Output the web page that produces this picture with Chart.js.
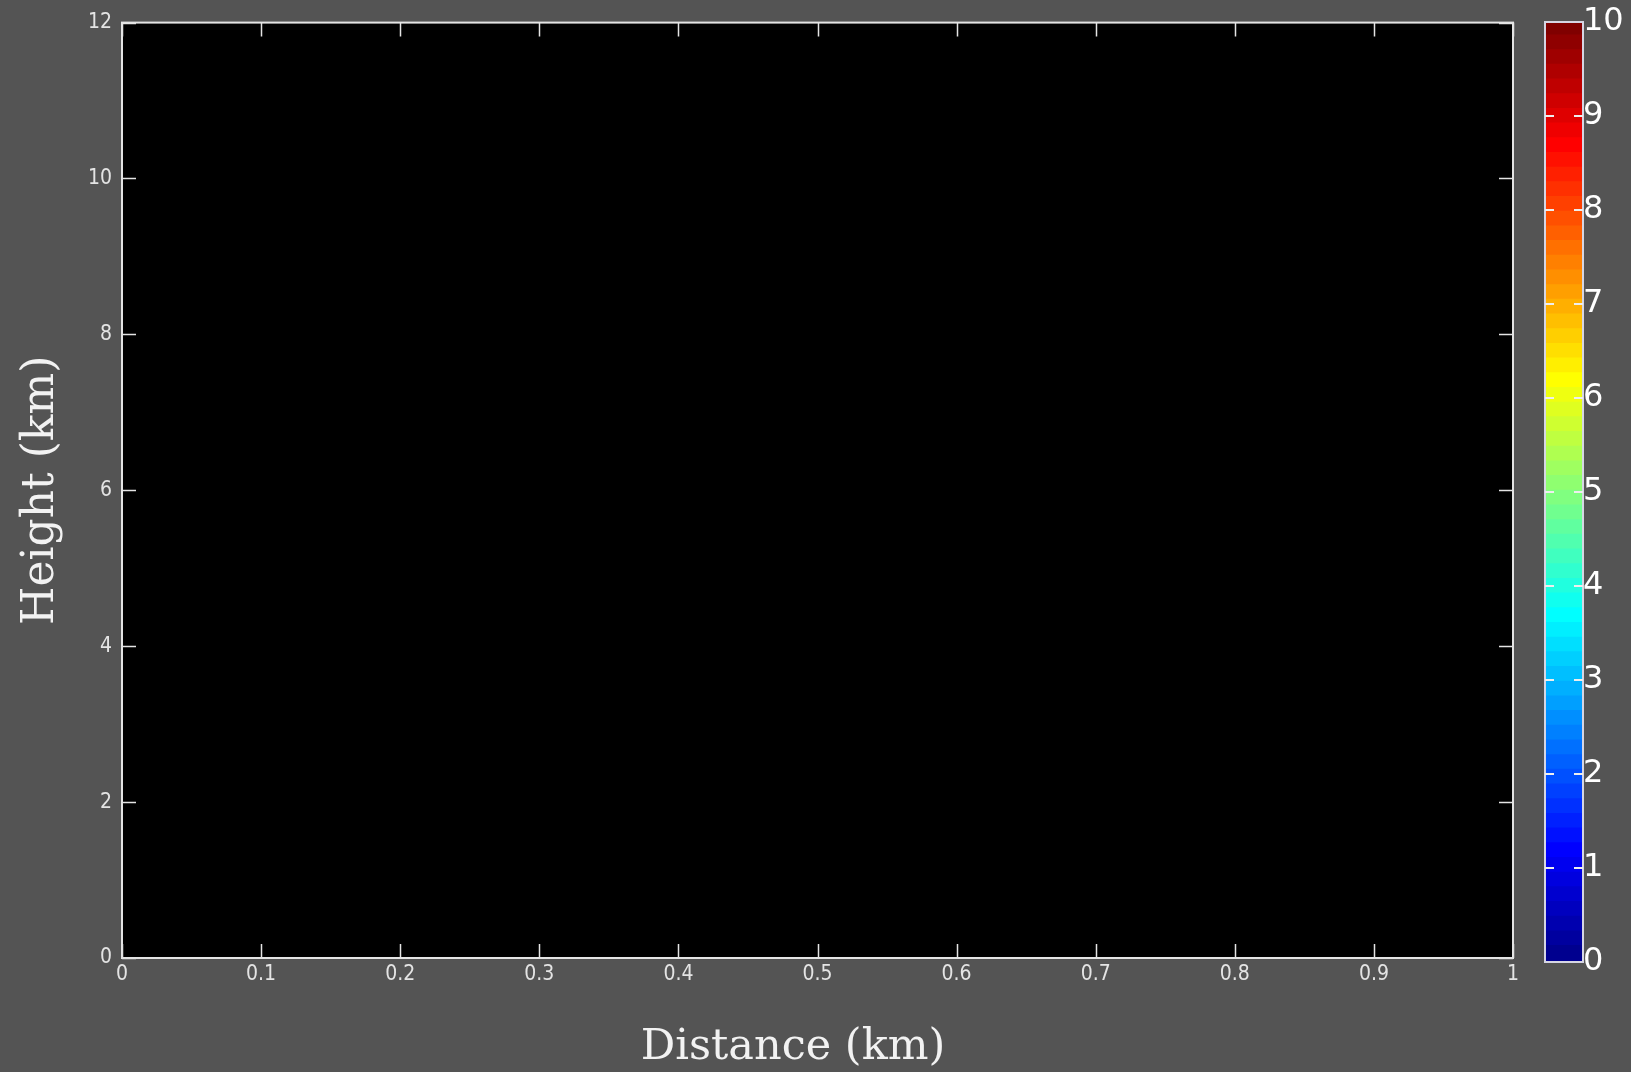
<!DOCTYPE html>
<html>
<head>
<meta charset="utf-8">
<title>Height / Distance</title>
<script src="https://cdn.jsdelivr.net/npm/chart.js@4.4.1/dist/chart.umd.min.js"></script>
<style>
  html, body { margin: 0; padding: 0; background: #545454; overflow: hidden; }
  #wrap { position: relative; width: 1631px; height: 1072px; }
  #mainChart { position: absolute; left: 0; top: 0; }
  #barChart { position: absolute; left: 1530px; top: 0; }
</style>
</head>
<body>
<div id="wrap">
  <canvas id="mainChart" width="1631" height="1072"></canvas>
  <canvas id="barChart" width="101" height="1072"></canvas>
</div>
<script>
// axis ticks
var distanceTicks = [0, 0.1, 0.2, 0.3, 0.4, 0.5, 0.6, 0.7, 0.8, 0.9, 1];
var heightTicks = [0, 2, 4, 6, 8, 10, 12];
var colorTicks = [0, 1, 2, 3, 4, 5, 6, 7, 8, 9, 10];

// echoes (none in this section)
var echoDistance = [];
var echoHeight = [];

// colour scale
var colorMin = 0;
var colorMax = 10;
var colorSteps = 64;

var tickFont = '"Liberation Sans Narrow", "DejaVu Sans Condensed", sans-serif';
var titleFont = '"DejaVu Serif", "Liberation Serif", serif';
var lineColor = '#e4e4e4';

// jet colormap, same as matlab's jet(64)
function jet(k, n) {
    var q = n / 4;
    var r, g, b;
    var i = k + 1;
    b = i <= q / 2 ? 0.5 + i / q : (i <= 1.5 * q ? 1 : Math.max(0, 1 - (i - 1.5 * q) / q));
    g = i <= q / 2 ? 0 : (i <= 1.5 * q ? (i - q / 2) / q : (i <= 2.5 * q ? 1 : Math.max(0, 1 - (i - 2.5 * q) / q)));
    r = i <= 1.5 * q ? 0 : (i <= 2.5 * q ? (i - 1.5 * q) / q : (i <= 3.5 * q ? 1 : 1 - (i - 3.5 * q) / q));
    return 'rgb(' + Math.round(r * 255) + ',' + Math.round(g * 255) + ',' + Math.round(b * 255) + ')';
}

// Main plot frame: black area, border, inward ticks, titles
var plotFrame = {
    id: 'plotFrame',
    beforeDraw: function(chart) {
        var c = chart.ctx, a = chart.chartArea;
        c.save();
        c.fillStyle = '#545454';
        c.fillRect(0, 0, chart.width, chart.height);
        c.fillStyle = '#000';
        c.fillRect(a.left, a.top, a.right - a.left, a.bottom - a.top);
        c.restore();
    },
    afterDraw: function(chart) {
        var c = chart.ctx, a = chart.chartArea;
        var xs = chart.scales.x, ys = chart.scales.y;
        var len = 14;
        c.save();
        c.strokeStyle = lineColor;
        c.lineWidth = 2;
        c.strokeRect(a.left, a.top, a.right - a.left, a.bottom - a.top);
        c.lineWidth = 1.5;
        c.beginPath();
        distanceTicks.forEach(function(v) {
            var px = Math.round(xs.getPixelForValue(v)) + 0.5;
            c.moveTo(px, a.bottom); c.lineTo(px, a.bottom - len);
            c.moveTo(px, a.top); c.lineTo(px, a.top + len);
        });
        heightTicks.forEach(function(v) {
            var py = Math.round(ys.getPixelForValue(v)) + 0.5;
            c.moveTo(a.left, py); c.lineTo(a.left + len, py);
            c.moveTo(a.right, py); c.lineTo(a.right - len, py);
        });
        c.stroke();

        c.fillStyle = '#f2f2f2';
        c.font = '43px ' + titleFont;
        c.textAlign = 'center';
        c.textBaseline = 'alphabetic';
        c.fillText('Distance (km)', 793, 1059);
        c.translate(53, (a.top + a.bottom) / 2);
        c.rotate(-Math.PI / 2);
        c.font = '44px ' + titleFont;
        c.fillText('Height (km)', 0, 0);
        c.restore();
    }
};

var ctx = document.getElementById('mainChart').getContext('2d');
var chart = new Chart(ctx, {
    type: 'scatter',
    data: {
        datasets: [{
            label: 'Echo',
            data: echoDistance.map(function(d, i) { return { x: d, y: echoHeight[i] }; }),
            pointRadius: 2,
            backgroundColor: '#ffffff'
        }]
    },
    options: {
        responsive: false,
        animation: false,
        layout: { padding: { left: 0, top: 21, right: 118, bottom: 0 } },
        plugins: { legend: { display: false }, tooltip: { enabled: false } },
        scales: {
            x: {
                type: 'linear', min: 0, max: 1,
                afterBuildTicks: function(s) { s.ticks = distanceTicks.map(function(v) { return { value: v }; }); },
                afterFit: function(s) { s.height = 114; },
                grid: { display: false, drawTicks: false },
                border: { display: false },
                ticks: {
                    color: lineColor, padding: 4, maxRotation: 0, autoSkip: false,
                    font: { family: tickFont, size: 21 },
                    callback: function(v) { return String(v); }
                }
            },
            y: {
                type: 'linear', min: 0, max: 12,
                afterBuildTicks: function(s) { s.ticks = heightTicks.map(function(v) { return { value: v }; }); },
                afterFit: function(s) { s.width = 122; },
                grid: { display: false, drawTicks: false },
                border: { display: false },
                ticks: {
                    color: lineColor, padding: 10, autoSkip: false,
                    font: { family: tickFont, size: 21 },
                    callback: function(v) { return String(v); }
                }
            }
        }
    },
    plugins: [plotFrame]
});

// Colour bar: one floating bar per colour step
var bands = [];
for (var k = 0; k < colorSteps; k++) {
    var step = (colorMax - colorMin) / colorSteps;
    bands.push({
        data: [[colorMin + k * step, colorMin + (k + 1) * step + 0.02]],
        backgroundColor: jet(k, colorSteps),
        borderWidth: 0,
        barPercentage: 1,
        categoryPercentage: 1,
        grouped: false
    });
}

var barFrame = {
    id: 'barFrame',
    afterDraw: function(chart) {
        var c = chart.ctx, a = chart.chartArea, ys = chart.scales.y;
        var len = 9;
        c.save();
        c.strokeStyle = '#d6d6e4';
        c.lineWidth = 2;
        c.strokeRect(a.left, a.top, a.right - a.left, a.bottom - a.top);
        c.strokeStyle = '#eeeeee';
        c.beginPath();
        colorTicks.forEach(function(v) {
            if (v === colorMin || v === colorMax) return;
            var py = Math.round(ys.getPixelForValue(v));
            c.moveTo(a.left, py); c.lineTo(a.left + len, py);
            c.moveTo(a.right, py); c.lineTo(a.right - len, py);
        });
        c.stroke();
        c.restore();
    }
};

var barCtx = document.getElementById('barChart').getContext('2d');
var colorBar = new Chart(barCtx, {
    type: 'bar',
    data: { labels: [''], datasets: bands },
    options: {
        responsive: false,
        animation: false,
        layout: { padding: { left: 15, top: 22, right: 0, bottom: 110 } },
        plugins: { legend: { display: false }, tooltip: { enabled: false } },
        scales: {
            x: { display: false },
            y: {
                position: 'right', min: colorMin, max: colorMax,
                afterBuildTicks: function(s) { s.ticks = colorTicks.map(function(v) { return { value: v }; }); },
                afterFit: function(s) { s.width = 48; },
                grid: { display: false, drawTicks: false },
                border: { display: false },
                ticks: {
                    color: '#ffffff', padding: 0, autoSkip: false,
                    font: { family: '"DejaVu Sans", sans-serif', size: 32 },
                    callback: function(v) { return String(v); }
                }
            }
        }
    },
    plugins: [barFrame]
});
</script>
</body>
</html>
